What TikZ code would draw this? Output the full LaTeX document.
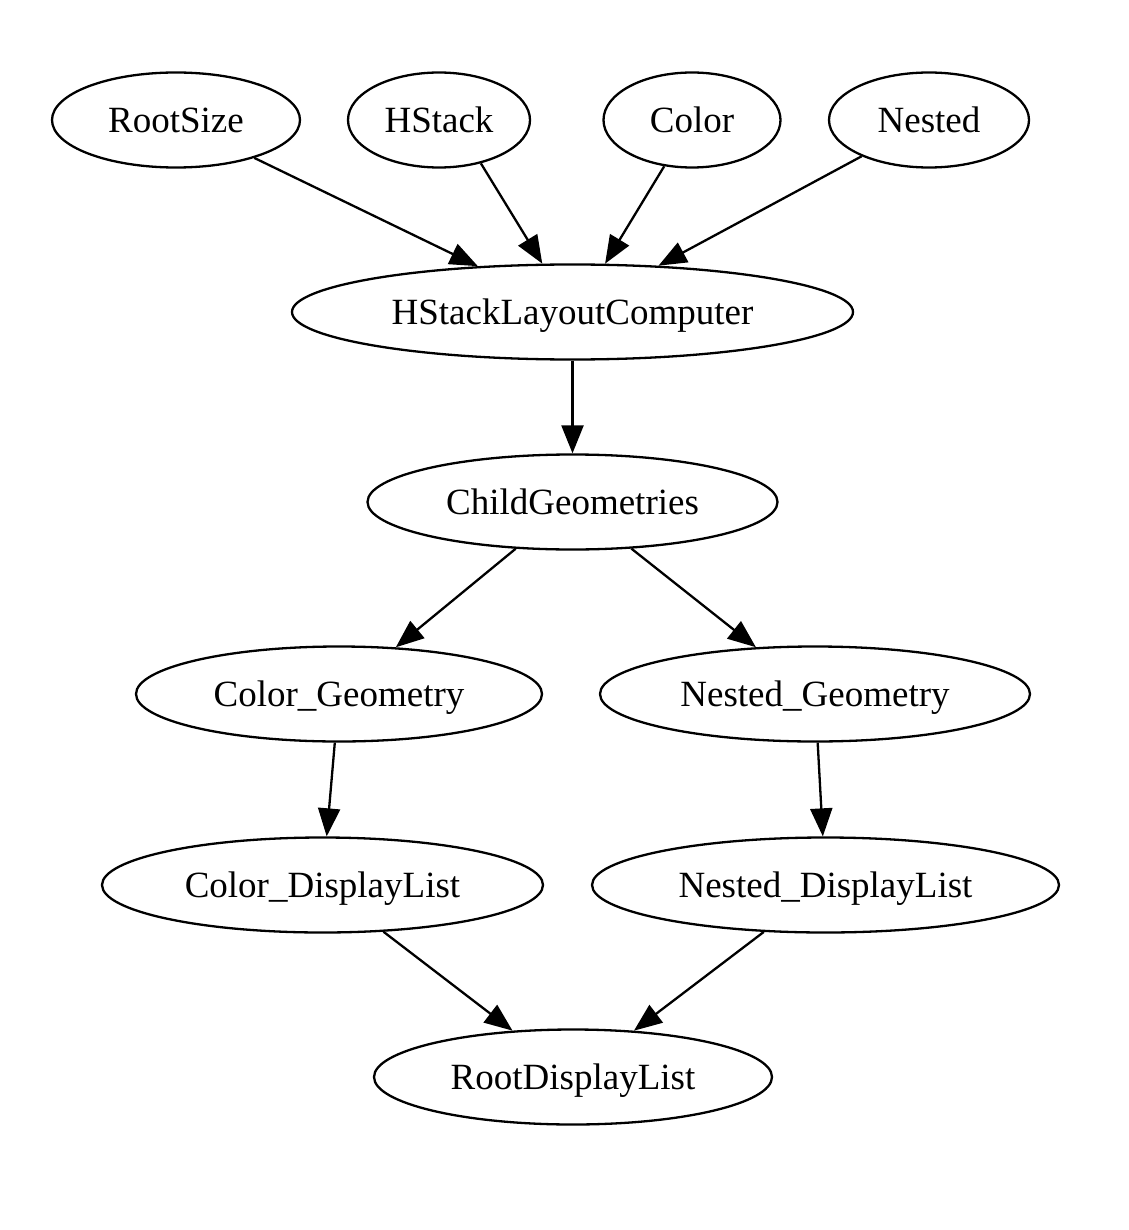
\documentclass[tikz,border=0pt]{standalone}
\usepackage{fontspec}
\setmainfont{Liberation Serif}
\usetikzlibrary{shapes.geometric,arrows.meta}
\begin{document}
\begin{tikzpicture}[x=1pt,y=-1pt,
  nd/.style={draw,ellipse,line width=2.3pt,inner sep=0pt,minimum height=95pt,
    text height=27pt,text depth=1.5pt,
    font=\fontsize{37}{40}\selectfont},
  edge/.style={line width=2.3pt,-{Triangle[length=28pt,width=22pt]}}]
\fill[white] (0,0) rectangle (1128,1230);
\useasboundingbox (0,0) rectangle (1128,1230);
\node[nd,minimum width=248pt] (rs) at (176,120) {RootSize};
\node[nd,minimum width=182pt] (hs) at (439,120) {HStack};
\node[nd,minimum width=177pt] (co) at (692,120) {Color};
\node[nd,minimum width=200pt] (ne) at (929,120) {Nested};
\node[nd,minimum width=561pt] (hl) at (572.5,312) {HStackLayoutComputer};
\node[nd,minimum width=410pt] (cg) at (572.5,502) {ChildGeometries};
\node[nd,minimum width=406pt] (cgeo) at (339,694) {Color\_Geometry};
\node[nd,minimum width=430pt] (ngeo) at (815,694) {Nested\_Geometry};
\node[nd,minimum width=441pt] (cdl) at (322.5,885) {Color\_DisplayList};
\node[nd,minimum width=467pt] (ndl) at (825.5,885) {Nested\_DisplayList};
\node[nd,minimum width=398pt] (rdl) at (573,1077) {RootDisplayList};
\draw[edge] (rs) -- (hl);
\draw[edge] (hs.-46) -- (hl.122);
\draw[edge] (co.239) -- (hl.56);
\draw[edge] (ne) -- (hl);
\draw[edge] (hl) -- (cg);
\draw[edge] (cg) -- (cgeo);
\draw[edge] (cg) -- (ngeo);
\draw[edge] (cgeo) -- (cdl);
\draw[edge] (ngeo) -- (ndl);
\draw[edge] (cdl) -- (rdl);
\draw[edge] (ndl) -- (rdl);
\end{tikzpicture}
\end{document}
